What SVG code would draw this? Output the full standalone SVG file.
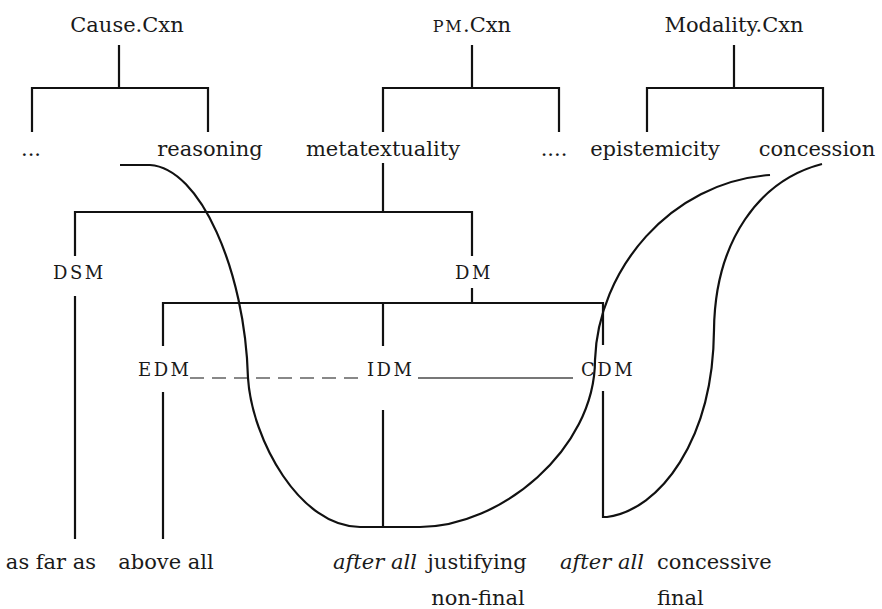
<svg xmlns="http://www.w3.org/2000/svg" width="882" height="609" viewBox="0 0 882 609">
<style>
text{font-family:"DejaVu Serif","Liberation Serif",serif;font-size:21px;fill:#1a1a1a}
.m{text-anchor:middle}
.sc{font-size:18px;letter-spacing:2.5px}
.it{font-style:italic}
.ln{stroke:#111;stroke-width:2.2;fill:none}
.gr{stroke:#777;stroke-width:2;fill:none}
.ds{stroke:#888;stroke-width:2;fill:none;stroke-dasharray:14 8}
</style>
<rect width="882" height="609" fill="#fff"/>
<g id="connectors">
<path class="ln" d="M119,45V88M32,132V88H208V132"/>
<path class="ln" d="M472,45V88M383,132V88H559V132"/>
<path class="ln" d="M734,45V88M647,132V88H823V132"/>
<path class="ln" d="M383,163V212M75,256V212H472V256"/>
<path class="ln" d="M75,296V539"/>
<path class="ln" d="M472,288V303M163,346V303H603V345M383,303V346"/>
<path class="ln" d="M163,392V539"/>
<path class="ln" d="M383,410V527"/>
<path class="ds" d="M190,378H360"/>
<path class="gr" d="M418,378H573"/>
<path class="ln" d="M120,165H150C200,168 245,270 248,378C252,440 300,527 360,527L420,527C500,527 595,450 595,360C598,270 670,182 770,175"/>
<path class="ln" d="M822,164C760,180 715,240 714,330C713,440 660,510 607,517L603,517V391"/>
</g>
<g id="cause-cxn"><text class="m" x="127" y="32">Cause.Cxn</text></g>
<g id="pm-cxn"><text class="m" x="472" y="32"><tspan font-size="16" letter-spacing="1.5">PM</tspan>.Cxn</text></g>
<g id="modality-cxn"><text class="m" x="734" y="32">Modality.Cxn</text></g>
<g id="ellipsis1"><text class="m" x="31" y="156">...</text></g>
<g id="reasoning"><text class="m" x="210" y="156">reasoning</text></g>
<g id="metatextuality"><text class="m" x="383" y="156">metatextuality</text></g>
<g id="ellipsis2"><text class="m" x="554" y="156">....</text></g>
<g id="epistemicity"><text class="m" x="655" y="156">epistemicity</text></g>
<g id="concession"><text class="m" x="817" y="156">concession</text></g>
<g id="dsm"><text class="sc" x="53" y="279">DSM</text></g>
<g id="dm"><text class="sc" x="455" y="279">DM</text></g>
<g id="edm"><text class="sc" x="138" y="376">EDM</text></g>
<g id="idm"><text class="sc" x="367" y="376">IDM</text></g>
<g id="cdm"><text class="sc" x="581" y="376">CDM</text></g>
<g id="as-far-as"><text class="m" x="51" y="569">as far as</text></g>
<g id="above-all"><text class="m" x="166" y="569">above all</text></g>
<g id="after-all-justifying"><text class="m it" x="375" y="569">after all</text><text class="m" x="477" y="569">justifying</text><text class="m" x="478" y="605">non-final</text></g>
<g id="after-all-concessive"><text class="m it" x="602" y="569">after all</text><text x="657" y="569">concessive</text><text x="657" y="605">final</text></g>
</svg>
